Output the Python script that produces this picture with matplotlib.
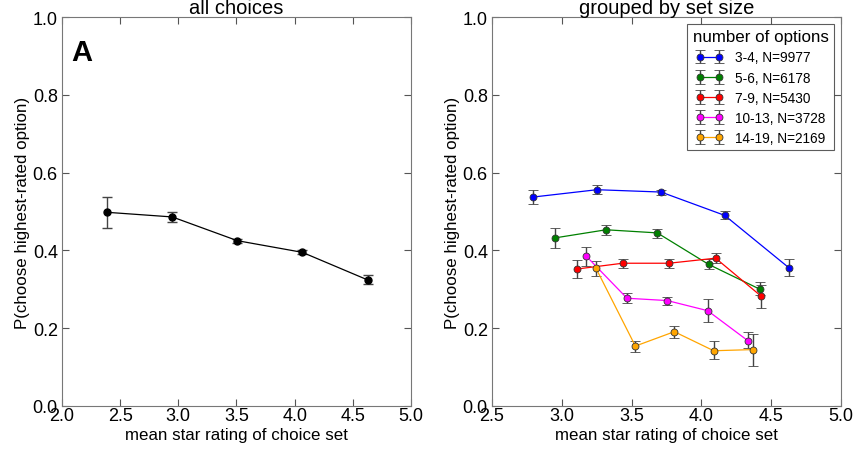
import matplotlib
matplotlib.use("Agg")
import matplotlib.pyplot as plt
import numpy as np

plt.rcParams['font.family'] = ['Liberation Sans', 'DejaVu Sans']

# ---- data: all choices ----
all_x = [2.384, 2.948, 3.507, 4.066, 4.628]
all_y = [0.498, 0.486, 0.425, 0.395, 0.324]
all_lo = [0.040, 0.012, 0.005, 0.005, 0.010]
all_hi = [0.039, 0.012, 0.005, 0.005, 0.013]

# ---- data: grouped by set size ----
group_labels = ["3-4, N=9977", "5-6, N=6178", "7-9, N=5430", "10-13, N=3728", "14-19, N=2169"]
group_colors = ["blue", "green", "red", "magenta", "orange"]

x_34 = [2.791, 3.252, 3.711, 4.167, 4.628]
y_34 = [0.537, 0.556, 0.550, 0.490, 0.355]
lo_34 = [0.019, 0.011, 0.008, 0.010, 0.021]
hi_34 = [0.019, 0.011, 0.006, 0.011, 0.023]

x_56 = [2.949, 3.317, 3.684, 4.052, 4.420]
y_56 = [0.432, 0.453, 0.445, 0.364, 0.300]
lo_56 = [0.026, 0.013, 0.012, 0.013, 0.015]
hi_56 = [0.026, 0.013, 0.011, 0.013, 0.020]

x_79 = [3.106, 3.436, 3.768, 4.102, 4.429]
y_79 = [0.352, 0.367, 0.367, 0.380, 0.282]
lo_79 = [0.024, 0.013, 0.011, 0.013, 0.031]
hi_79 = [0.023, 0.012, 0.010, 0.014, 0.030]

x_1013 = [3.173, 3.467, 3.756, 4.045, 4.336]
y_1013 = [0.386, 0.277, 0.271, 0.245, 0.167]
lo_1013 = [0.025, 0.013, 0.011, 0.029, 0.019]
hi_1013 = [0.023, 0.014, 0.010, 0.030, 0.024]

x_1419 = [3.245, 3.527, 3.806, 4.088, 4.370]
y_1419 = [0.354, 0.154, 0.191, 0.142, 0.145]
lo_1419 = [0.021, 0.014, 0.017, 0.022, 0.041]
hi_1419 = [0.019, 0.013, 0.015, 0.024, 0.040]

groups = [
    (x_34, y_34, lo_34, hi_34),
    (x_56, y_56, lo_56, hi_56),
    (x_79, y_79, lo_79, hi_79),
    (x_1013, y_1013, lo_1013, hi_1013),
    (x_1419, y_1419, lo_1419, hi_1419),
]

yticks = [0.0, 0.2, 0.4, 0.6, 0.8, 1.0]

fig = plt.figure(figsize=(8.57, 4.56), dpi=100)
ax1 = fig.add_axes([0.0723, 0.1075, 0.4073, 0.853])
ax2 = fig.add_axes([0.5741, 0.1075, 0.4072, 0.853])

err_kw = dict(ecolor="#444444", elinewidth=1.0, capsize=3.5, capthick=1.0)

ax1.errorbar(all_x, all_y, yerr=[all_lo, all_hi], color="black", lw=0.9,
             marker="o", ms=5, mfc="black", mec="black", **err_kw)
ax1.set_xlim(2.0, 5.0)
ax1.set_xticks([2.0, 2.5, 3.0, 3.5, 4.0, 4.5, 5.0])
ax1.set_title("all choices", fontsize=14.5, pad=3)
ax1.text(0.026, 0.946, "A", transform=ax1.transAxes, fontsize=21,
         fontweight="bold", va="top", ha="left")

for (gx, gy, glo, ghi), col, lab in zip(groups, group_colors, group_labels):
    ax2.errorbar(gx, gy, yerr=[glo, ghi], color=col, lw=0.9, marker="o", ms=5,
                 mfc=col, mec="#333333", mew=0.6, label=lab, **err_kw)
ax2.set_xlim(2.5, 5.0)
ax2.set_xticks([2.5, 3.0, 3.5, 4.0, 4.5, 5.0])
ax2.set_title("grouped by set size", fontsize=14.5, pad=3)
leg = ax2.legend(title="number of options", loc="upper right", numpoints=2,
                 fontsize=9.8, title_fontsize=12.2, frameon=True, fancybox=False,
                 edgecolor="#333333", borderpad=0.4, labelspacing=0.45,
                 handlelength=2.0, handletextpad=0.9, borderaxespad=0.5)
leg.get_frame().set_linewidth(0.8)

for ax in (ax1, ax2):
    ax.set_ylim(0.0, 1.0)
    ax.set_yticks(yticks)
    ax.set_yticklabels([f"{t:.1f}" for t in yticks])
    ax.set_xticklabels([f"{t:.1f}" for t in ax.get_xticks()])
    ax.tick_params(direction="in", top=True, right=True, labelsize=13, length=5,
                   color="#555555")
    ax.tick_params(axis="x", pad=1)
    ax.tick_params(axis="y", pad=3)
    ax.set_xlabel("mean star rating of choice set", fontsize=12.2, labelpad=2)
    ax.set_ylabel("P(choose highest-rated option)", fontsize=12.2, labelpad=2)
    for s in ax.spines.values():
        s.set_color("#777777")
        s.set_linewidth(0.8)

fig.savefig("out.png", dpi=100)
